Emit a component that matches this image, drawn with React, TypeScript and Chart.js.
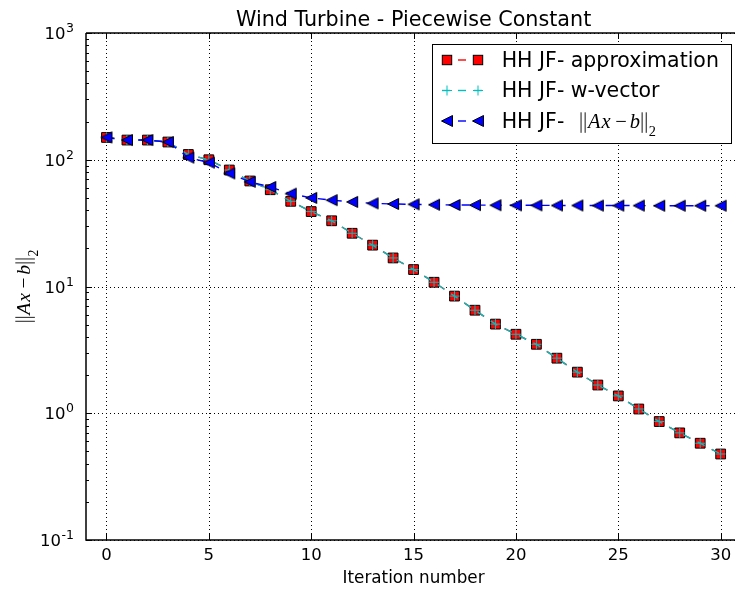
import React, { useEffect, useRef } from 'react';
import { Chart, registerables } from 'chart.js';

Chart.register(...registerables);

// ---------------- data ----------------
const iterations = [
  0, 1, 2, 3, 4, 5, 6, 7, 8, 9, 10, 11, 12, 13, 14, 15, 16, 17, 18, 19, 20,
  21, 22, 23, 24, 25, 26, 27, 28, 29, 30,
];
const approximation = [
  150, 143, 143, 138, 110, 100, 83, 68, 58, 47, 39, 33, 26.3, 21.2, 16.8, 13.6,
  10.8, 8.4, 6.5, 5.05, 4.2, 3.5, 2.72, 2.11, 1.67, 1.37, 1.08, 0.86, 0.7,
  0.58, 0.477,
];
const wVector = [
  150, 143, 143, 138, 110, 100, 83, 68, 58, 47, 39, 33, 26.3, 21.2, 16.8, 13.6,
  10.8, 8.4, 6.5, 5.05, 4.2, 3.5, 2.72, 2.11, 1.67, 1.37, 1.08, 0.86, 0.7,
  0.58, 0.477,
];
const residual = [
  150, 143, 143, 138, 104, 95, 78, 67, 61, 54, 50, 48, 46.5, 45.3, 44.8, 44.5,
  44.2, 44.0, 43.9, 43.8, 43.7, 43.7, 43.6, 43.6, 43.5, 43.5, 43.5, 43.4, 43.4,
  43.4, 43.4,
];
const xTicks = [0, 5, 10, 15, 20, 25, 30];
const yDecades = [0.1, 1, 10, 100, 1000];
const yExponents = ['-1', '0', '1', '2', '3'];
const minorMultipliers = [2, 3, 4, 5, 6, 7, 8, 9];

const titleText = 'Wind Turbine - Piecewise Constant';
const xLabelText = 'Iteration number';
const legendLabels = ['HH JF- approximation', 'HH JF- w-vector', 'HH JF- '];

const RED = '#ff0000';
const CYAN = '#00bfbf';
const BLUE = '#0000ff';
const SANS = '"DejaVu Sans", sans-serif';
const SERIF = '"Liberation Serif", "DejaVu Serif", serif';

// ---------------- marker images ----------------
function makeTriangle(): HTMLCanvasElement {
  const c = document.createElement('canvas');
  c.width = 14;
  c.height = 14;
  const g = c.getContext('2d')!;
  const h = 5.5;
  g.beginPath();
  g.moveTo(7 - h, 7);
  g.lineTo(7 + h, 7 - h);
  g.lineTo(7 + h, 7 + h);
  g.closePath();
  g.fillStyle = BLUE;
  g.fill();
  g.lineWidth = 1;
  g.strokeStyle = '#000';
  g.stroke();
  return c;
}

// math text "||Ax−b||_2"
type Piece = { t: string; it: boolean; adv: number; sub?: boolean; bar?: boolean; center?: boolean };
const mathPieces: Piece[] = [
  { t: '|', it: false, adv: 0.2, bar: true },
  { t: '|', it: false, adv: 0.24, bar: true },
  { t: 'A', it: true, adv: 0.66 },
  { t: 'x', it: true, adv: 0.52 },
  { t: '\u2212', it: false, adv: 0.86, center: true },
  { t: 'b', it: true, adv: 0.5 },
  { t: '|', it: false, adv: 0.2, bar: true },
  { t: '|', it: false, adv: 0.22, bar: true },
  { t: '2', it: false, adv: 0.35, sub: true },
];
function mathWidth(size: number) {
  return mathPieces.reduce((s, p) => s + p.adv * size, 0);
}
function drawMath(ctx: CanvasRenderingContext2D, x: number, y: number, size: number) {
  let cx = x;
  ctx.textAlign = 'left';
  ctx.textBaseline = 'alphabetic';
  for (const p of mathPieces) {
    const adv = p.adv * size;
    if (p.bar) {
      ctx.save();
      ctx.lineWidth = Math.max(0.8, size * 0.045);
      ctx.strokeStyle = ctx.fillStyle as string;
      ctx.beginPath();
      ctx.moveTo(cx + 0.1 * size, y + size * 0.25);
      ctx.lineTo(cx + 0.1 * size, y - size * 0.75);
      ctx.stroke();
      ctx.restore();
    } else {
      const s = p.sub ? size * 0.7 : size;
      ctx.font = `${p.it ? 'italic ' : ''}${s}px ${SERIF}`;
      const w = ctx.measureText(p.t).width;
      const dx = p.center ? (adv - w) / 2 : 0;
      ctx.fillText(p.t, cx + dx, y + (p.sub ? size * 0.4 : 0));
    }
    cx += adv;
  }
}

const decorPlugin = {
  id: 'decor',
  beforeDatasetsDraw(chart: any) {
    const { ctx, chartArea: a, scales } = chart;
    const x = scales.x;
    const y = scales.y;
    ctx.save();
    ctx.strokeStyle = '#000';
    ctx.lineWidth = 1;
    ctx.setLineDash([1, 3]);
    for (const t of xTicks) {
      const px = Math.round(x.getPixelForValue(t)) + 0.5;
      ctx.beginPath();
      ctx.moveTo(px, a.top);
      ctx.lineTo(px, a.bottom);
      ctx.stroke();
    }
    for (const d of yDecades) {
      const py = Math.round(y.getPixelForValue(d)) + 0.5;
      ctx.beginPath();
      ctx.moveTo(a.left, py);
      ctx.lineTo(a.right, py);
      ctx.stroke();
    }
    ctx.restore();
  },
  afterDraw(chart: any) {
    const { ctx, chartArea: a, scales } = chart;
    const x = scales.x;
    const y = scales.y;
    const cxAxes = x.getPixelForValue(15);
    ctx.save();
    ctx.setLineDash([]);
    ctx.strokeStyle = '#000';

    // spines
    ctx.lineWidth = 1.5;
    ctx.beginPath();
    ctx.moveTo(a.left, a.top);
    ctx.lineTo(a.right, a.top);
    ctx.moveTo(a.left, a.top);
    ctx.lineTo(a.left, a.bottom);
    ctx.lineTo(a.right, a.bottom);
    ctx.stroke();

    // inward ticks
    ctx.lineWidth = 1;
    ctx.beginPath();
    for (const t of xTicks) {
      const px = Math.round(x.getPixelForValue(t)) + 0.5;
      ctx.moveTo(px, a.bottom);
      ctx.lineTo(px, a.bottom - 6);
      ctx.moveTo(px, a.top);
      ctx.lineTo(px, a.top + 6);
    }
    for (const d of yDecades) {
      const py = Math.round(y.getPixelForValue(d)) + 0.5;
      ctx.moveTo(a.left, py);
      ctx.lineTo(a.left + 6, py);
      if (d < 1000) {
        for (const m of minorMultipliers) {
          const pm = Math.round(y.getPixelForValue(d * m)) + 0.5;
          ctx.moveTo(a.left, pm);
          ctx.lineTo(a.left + 3, pm);
        }
      }
    }
    ctx.stroke();

    ctx.fillStyle = '#000';
    // x tick labels
    ctx.font = `16.5px ${SANS}`;
    ctx.textAlign = 'center';
    ctx.textBaseline = 'alphabetic';
    for (const t of xTicks) {
      ctx.fillText(String(t), x.getPixelForValue(t), 559.5);
    }
    // y tick labels 10^k
    const labelRight = 74;
    yDecades.forEach((d, i) => {
      const py = y.getPixelForValue(d);
      ctx.font = `12.5px ${SANS}`;
      ctx.textAlign = 'right';
      const ew = ctx.measureText(yExponents[i]).width;
      ctx.fillText(yExponents[i], labelRight, py - 1);
      ctx.font = `16.5px ${SANS}`;
      ctx.fillText('10', labelRight - ew - 0.5, py + 6);
    });

    // x label
    ctx.font = `16.8px ${SANS}`;
    ctx.textAlign = 'center';
    ctx.fillText(xLabelText, cxAxes, 583);

    // title
    ctx.font = `20.7px ${SANS}`;
    ctx.fillText(titleText, cxAxes, 25.5);

    // y label (math)
    const ySize = 19.6;
    ctx.save();
    ctx.translate(30, (a.top + a.bottom) / 2);
    ctx.rotate(-Math.PI / 2);
    drawMath(ctx, -mathWidth(ySize) / 2, 0, ySize);
    ctx.restore();

    // legend
    const lx0 = 432.5, ly0 = 44.5, lx1 = 731.5, ly1 = 143.5;
    ctx.fillStyle = '#fff';
    ctx.fillRect(lx0, ly0, lx1 - lx0, ly1 - ly0);
    ctx.lineWidth = 1;
    ctx.strokeStyle = '#000';
    ctx.strokeRect(lx0, ly0, lx1 - lx0, ly1 - ly0);

    const rowBase = [66.7, 97.2, 127.7];
    const colors = [RED, CYAN, BLUE];
    const mk = [447, 478];
    rowBase.forEach((b, i) => {
      const my = b - 6.7;
      ctx.save();
      ctx.strokeStyle = colors[i];
      ctx.lineWidth = 1.4;
      ctx.setLineDash([8, 8]);
      ctx.beginPath();
      ctx.moveTo(442, my);
      ctx.lineTo(482, my);
      ctx.stroke();
      ctx.setLineDash([]);
      for (const m of mk) {
        if (i === 0) {
          const s = 4.7;
          ctx.fillStyle = RED;
          ctx.fillRect(m - s, my - s, 2 * s, 2 * s);
          ctx.strokeStyle = '#000';
          ctx.lineWidth = 1;
          ctx.strokeRect(m - s, my - s, 2 * s, 2 * s);
        } else if (i === 1) {
          ctx.strokeStyle = CYAN;
          ctx.lineWidth = 1;
          ctx.beginPath();
          ctx.moveTo(m - 5, my);
          ctx.lineTo(m + 5, my);
          ctx.moveTo(m, my - 5);
          ctx.lineTo(m, my + 5);
          ctx.stroke();
        } else {
          ctx.drawImage(triangleImg, m - 7, my - 7);
        }
      }
      ctx.restore();
      ctx.fillStyle = '#000';
      ctx.font = `20.5px ${SANS}`;
      ctx.textAlign = 'left';
      ctx.textBaseline = 'alphabetic';
      ctx.fillText(legendLabels[i], 501.7, b);
      if (i === 2) {
        drawMath(ctx, 579, b, 20.5);
      }
    });
    ctx.restore();
  },
};

let triangleImg: HTMLCanvasElement;

export default function App() {
  const ref = useRef<HTMLCanvasElement>(null);
  useEffect(() => {
    triangleImg = makeTriangle();
    const pts = (vals: number[]) => iterations.map((it, i) => ({ x: it, y: vals[i] }));
    const chart = new Chart(ref.current!, {
      type: 'line',
      data: {
        datasets: [
          {
            label: 'approximation',
            data: pts(approximation),
            order: 3,
            borderColor: RED,
            borderWidth: 1.4,
            borderDash: [8, 8],
            pointStyle: 'rect',
            pointRadius: 6.9,
            pointBackgroundColor: RED,
            pointBorderColor: '#000',
            pointBorderWidth: 1,
            fill: false,
            tension: 0,
          },
          {
            label: 'w-vector',
            data: pts(wVector),
            order: 2,
            borderColor: CYAN,
            borderWidth: 1.4,
            borderDash: [8, 8],
            pointStyle: 'cross',
            pointRadius: 5,
            pointBorderColor: CYAN,
            pointBorderWidth: 1,
            fill: false,
            tension: 0,
          },
          {
            label: 'residual',
            data: pts(residual),
            order: 1,
            borderColor: BLUE,
            borderWidth: 1.4,
            borderDash: [8, 8],
            pointStyle: triangleImg as any,
            pointRadius: 6,
            pointBackgroundColor: BLUE,
            pointBorderColor: '#000',
            fill: false,
            tension: 0,
          },
        ],
      },
      options: {
        animation: false,
        responsive: false,
        devicePixelRatio: 1,
        events: [],
        layout: { autoPadding: false, padding: { top: 33, left: 0, right: 0, bottom: 0 } },
        plugins: {
          legend: { display: false },
          title: { display: false },
          tooltip: { enabled: false },
        },
        scales: {
          x: {
            type: 'linear',
            min: -1,
            max: 30.7,
            grid: { display: false },
            border: { display: false },
            ticks: { display: false },
            afterBuildTicks: (s: any) => {
              s.ticks = xTicks.map((v) => ({ value: v }));
            },
            afterFit: (s: any) => {
              s.height = 50;
            },
          },
          y: {
            type: 'logarithmic',
            min: 0.1,
            max: 1000,
            grid: { display: false },
            border: { display: false },
            ticks: { display: false },
            afterBuildTicks: (s: any) => {
              s.ticks = yDecades.map((v) => ({ value: v, major: true }));
            },
            afterFit: (s: any) => {
              s.width = 86;
            },
          },
        },
      },
      plugins: [decorPlugin],
    } as any);
    return () => chart.destroy();
  }, []);
  return (
    <div style={{ position: 'absolute', left: 0, top: 0, width: 735, height: 590, background: '#fff' }}>
      <canvas ref={ref} width={735} height={590} style={{ display: 'block', width: 735, height: 590 }} />
    </div>
  );
}
